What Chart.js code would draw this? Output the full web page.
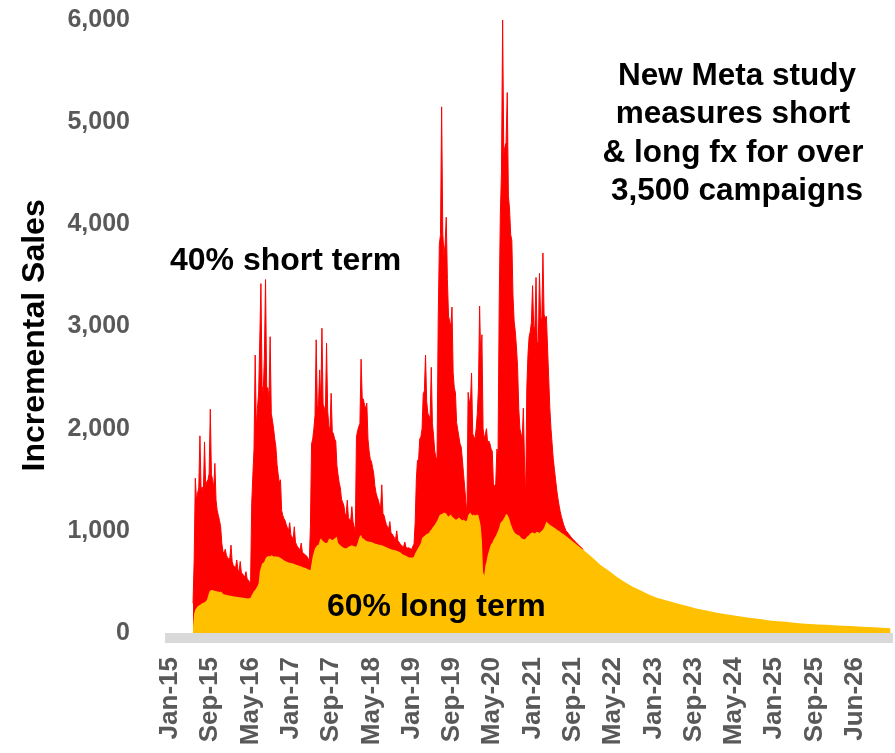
<!DOCTYPE html>
<html>
<head>
<meta charset="utf-8">
<script src="https://cdn.jsdelivr.net/npm/chart.js@4.4.1/dist/chart.umd.min.js"></script>
<style>
html,body{margin:0;padding:0;background:#fff;}
canvas{display:block;}
</style>
</head>
<body>
<canvas id="c" width="895" height="753"></canvas>
<script>
// x-axis tick labels (one every 35 weekly categories)
const tickLabels = ['Jan-15','Sep-15','May-16','Jan-17','Sep-17','May-18','Jan-19','Sep-19','May-20','Jan-21','Sep-21','May-22','Jan-23','Sep-23','May-24','Jan-25','Sep-25','Jun-26'];
const weeksPerTick = 35;

// weekly series, starting at week 20 after Jan-15
const firstWeek = 20;
const totalSales = [
  290, 715,1515,1300,1370,1420,1930,1400,1430,1380,
 1870,1430,1480,1500,1560,2190,1550,1500,1420,1660,
 1300,1200,1150,1100,1040, 880, 800, 780, 820, 760,
  740, 720, 740, 860, 700, 660, 650, 640, 715, 620,
  600, 700, 590, 580, 560, 550, 600, 530, 520, 500,
  490,1270,1550,1800,2720,2000,2200,2350,2870,3420,
 2420,2350,2700,3460,2400,2400,2300,2900,2150,2080,
 2000,1900,1820,1650,1550,1470,1500,1200,1150,1120,
 1100,1060,1030,1000,1080, 960, 940, 920,1040, 890,
  860, 840, 830, 810, 880, 790, 780, 770, 760, 750,
  730, 700,1040,1850,1900,2000,2130,2870,2200,2230,
 2575,2250,2983,2240,2210,2150,2836,2180,2020,2000,
 2346,1970,1950,1900,1880,1640,1550,1470,1420,1310,
 1280,1250,1170,1150,1300,1130,1110,1100,1237,1090,
 1040, 990,1920,1980,2020,2050,2680,2300,2290,2230,
 2200,2250,1900,1780,1700,1680,1620,1560,1440,1370,
 1330,1300,1250,1230,1450,1170,1150,1100,1060,1040,
 1020,1090, 980, 970, 950, 930, 920,1000, 900, 890,
  870, 860, 850, 845, 890, 840, 830, 835, 830, 825,
  820, 850, 870,1080,1500,1690,1700,1900,1920,2000,
 2340,2370,2720,2270,2150,2126,2100,2600,2050,1930,
 1780,1720,1700,3040,3800,3900,5150,3910,3700,3800,
 4070,3460,3100,3050,3000,3190,2545,2400,2350,2060,
 1990,1919,1850,1820,1700,1560,1430,1290,1160,2355,
 2270,2250,2545,1950,1920,1900,2000,2150,2400,3200,
 2650,2920,2000,1900,1950,2000,1850,1880,1850,1800,
 1780,1450,1440,1460,1800,1750,3200,4100,4520,6000,
 4680,4760,4800,5290,4280,4150,3900,3840,3300,3050,
 2950,2800,2600,2200,2000,1950,1900,2200,1680,1320,
 2400,2720,2900,2950,3040,3400,3000,2980,3480,2840,
 2850,3520,3100,3050,3720,3120,3080,3100,2800,2500,
 2200,2000,1850,1700,1600,1500,1400,1320,1250,1190,
 1140,1100,1060,1030,1000, 990, 975, 960, 945, 930,
  918, 906, 895, 884, 873, 862, 851, 840, 829, 818
];
const longTerm = [
   60, 190, 230, 245, 260, 270, 275, 285, 290, 295,
  300, 310, 320, 360, 400, 415, 420, 420, 415, 410,
  410, 405, 405, 400, 405, 400, 385, 380, 375, 375,
  370, 370, 365, 365, 360, 360, 358, 355, 355, 352,
  350, 350, 348, 345, 345, 342, 340, 340, 338, 340,
  345, 372, 390, 410, 421, 440, 460, 486, 600, 640,
  680, 685, 700, 730, 747, 750, 755, 750, 760, 755,
  750, 748, 752, 745, 748, 742, 735, 728, 720, 712,
  705, 700, 695, 690, 688, 685, 682, 680, 675, 670,
  665, 662, 658, 655, 650, 645, 642, 638, 635, 630,
  625, 617, 617, 680, 750, 790, 829, 845, 861, 861,
  900, 927, 910, 900, 890, 880, 880, 890, 920, 925,
  915, 910, 915, 925, 935, 943, 880, 870, 860, 850,
  840, 835, 830, 830, 835, 845, 850, 855, 860, 855,
  850, 845, 850, 880, 920, 950, 960, 930, 925, 915,
  905, 900, 895, 895, 890, 890, 885, 880, 875, 870,
  870, 865, 865, 862, 860, 855, 850, 845, 840, 835,
  830, 825, 820, 815, 815, 810, 810, 805, 800, 795,
  790, 780, 770, 765, 760, 755, 750, 745, 740, 740,
  738, 740, 750, 780, 800, 820, 840, 860, 880, 930,
  940, 950, 960, 970, 975, 980,1000,1010,1030,1044,
 1060,1080,1096,1120,1150,1160,1165,1170,1180,1175,
 1170,1150,1140,1150,1160,1140,1130,1120,1110,1110,
 1120,1130,1120,1110,1100,1110,1100,1096,1100,1150,
 1170,1180,1160,1150,1160,1150,1155,1160,1150,1100,
 1044, 900, 600, 560, 660, 700, 760, 800, 840, 870,
  880, 910, 930, 950, 973,1000,1030,1077,1090,1100,
 1120,1140,1165,1160,1140,1110,1070,1040,1010, 990,
  975, 970, 960, 957, 950, 930, 925, 920, 915, 925,
  940, 950, 960, 975, 980, 985, 980, 975, 985, 990,
  985, 980, 990,1000,1010,1030,1060,1090,1080,1070,
 1060,1052,1045,1038,1030,1022,1014,1006, 998, 990,
  982, 974, 966, 958, 950, 941, 932, 923, 914, 905,
  896, 887, 878, 869, 860, 851, 842, 833, 824, 815
];
// long-term decay after the campaigns, one value every 7 weeks from week 360
const tailStartWeek = 360;
const tailStep = 7;
const longTermTail = [806,740,666,612,551,500,453,415,377,346,322,300,280,260,238,222,206,191,178,166,155,145,134,123,116,109,101,94,89,84,80,75,72,68,64,59,56,52,47];

const longPts = longTerm.map((v, i) => ({x: firstWeek + i, y: v}))
  .concat(longTermTail.map((v, i) => ({x: tailStartWeek + i * tailStep, y: v})));
const totalPts = totalSales.map((v, i) => ({x: firstWeek + i, y: v}));

const FONT = "'Liberation Sans', Arial, Helvetica, sans-serif";

const decor = {
  id: 'decor',
  afterDraw(chart) {
    const {ctx, chartArea} = chart;
    ctx.save();
    ctx.fillStyle = '#D9D9D9';
    ctx.fillRect(chartArea.left, chartArea.bottom, chartArea.right - chartArea.left, 10);
    ctx.fillStyle = '#000000';
    ctx.font = 'bold 32px ' + FONT;
    ctx.textBaseline = 'alphabetic';
    ctx.textAlign = 'left';
    ctx.fillText('40% short term', 170, 270);
    ctx.fillText('60% long term', 327, 616);
    ctx.font = 'bold 31.5px ' + FONT;
    ctx.textAlign = 'center';
    ctx.fillText('New Meta study', 737, 85);
    ctx.fillText('measures short', 733, 123);
    ctx.fillText('& long fx for over', 733, 162);
    ctx.fillText('3,500 campaigns', 737, 200);
    ctx.restore();
  }
};

new Chart(document.getElementById('c'), {
  type: 'line',
  data: {
    datasets: [
      {label: 'Long term', data: longPts, backgroundColor: '#FFC000', borderColor: '#FFC000', borderWidth: 0, fill: 'origin', pointRadius: 0, tension: 0},
      {label: 'Total', data: totalPts, backgroundColor: '#FF0000', borderColor: '#FF0000', borderWidth: 1, fill: 'origin', pointRadius: 0, tension: 0}
    ]
  },
  options: {
    responsive: false,
    animation: false,
    events: [],
    layout: {padding: {left: 16, right: 2, top: 20, bottom: 0}},
    plugins: {legend: {display: false}, tooltip: {enabled: false}},
    scales: {
      x: {
        type: 'linear',
        min: -4.344,
        max: 628.15,
        grid: {display: false, drawTicks: false},
        border: {display: false},
        afterBuildTicks: (axis) => { axis.ticks = tickLabels.map((_, i) => ({value: i * weeksPerTick})); },
        afterFit: (scale) => { scale.height = 120; scale.paddingLeft = 0; scale.paddingRight = 0; },
        ticks: {
          autoSkip: false,
          minRotation: 90,
          maxRotation: 90,
          padding: 24,
          color: '#595959',
          font: {family: FONT, size: 26, weight: 'bold'},
          callback: (v) => tickLabels[Math.round(v / weeksPerTick)]
        }
      },
      y: {
        min: 0,
        max: 6000,
        grid: {display: false, drawTicks: false},
        border: {display: false},
        afterFit: (scale) => { scale.width = 149; scale.paddingTop = 0; scale.paddingBottom = 0; },
        ticks: {
          stepSize: 1000,
          padding: 35,
          color: '#595959',
          font: {family: FONT, size: 25, weight: 'bold'},
          callback: (v) => v.toLocaleString('en-US')
        },
        title: {
          display: true,
          text: 'Incremental Sales  ',
          color: '#000000',
          padding: 0,
          font: {family: FONT, size: 32, weight: 'bold'}
        }
      }
    }
  },
  plugins: [decor]
});
</script>
</body>
</html>
